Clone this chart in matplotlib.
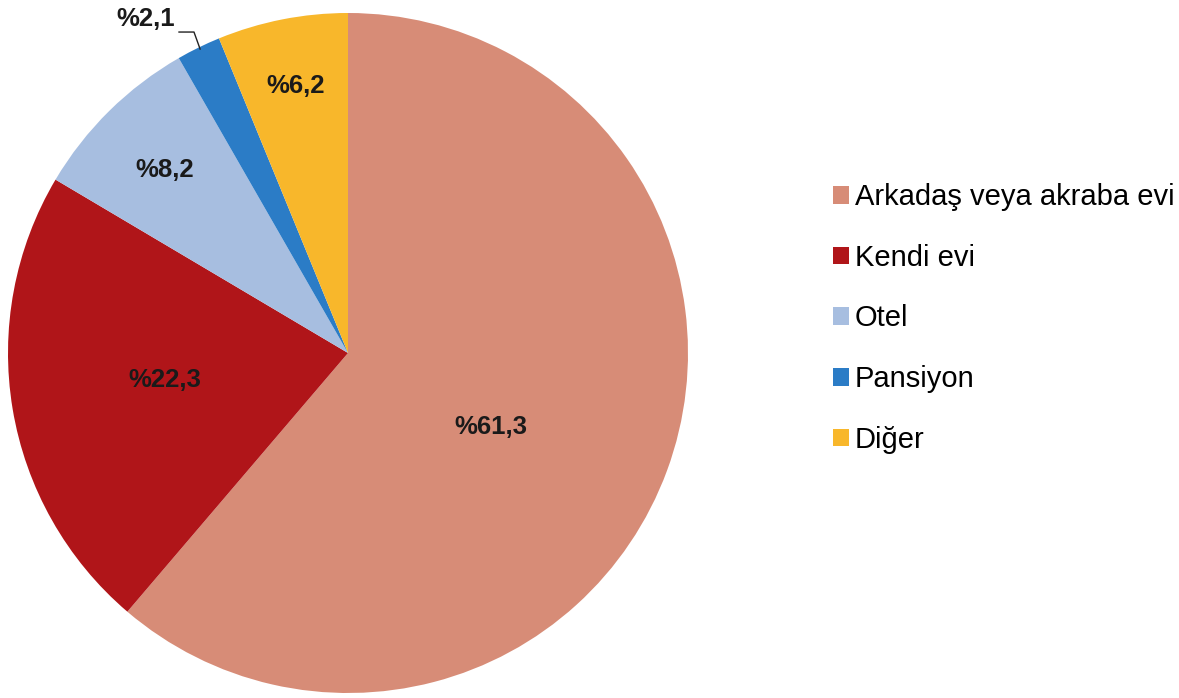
import matplotlib
matplotlib.use("Agg")
import matplotlib.pyplot as plt
from matplotlib.patches import Patch

categories = ["Arkadaş veya akraba evi", "Kendi evi", "Otel", "Pansiyon", "Diğer"]
values = [61.3, 22.3, 8.2, 2.1, 6.2]
value_labels = ["%61,3", "%22,3", "%8,2", "%2,1", "%6,2"]
colors = ["#D78C77", "#B01519", "#A7BEE0", "#2B7CC6", "#F8B72B"]

plt.rcParams['font.family'] = ['Liberation Sans', 'DejaVu Sans']

W, H = 1179, 698
fig = plt.figure(figsize=(W / 100, H / 100), dpi=100)
cx, cy, r = 348, 353, 340
ax = fig.add_axes([(cx - r) / W, (H - cy - r) / H, 2 * r / W, 2 * r / H])
wedges, _ = ax.pie(values, colors=colors, startangle=90, counterclock=False,
                   radius=1.0, wedgeprops=dict(linewidth=0))
ax.set_xlim(-1, 1)
ax.set_ylim(-1, 1)
ax.set_aspect('auto')
ax.axis('off')

label_pos = [(0.42, -0.218), (-0.538, -0.079), (-0.538, 0.538), (-0.594, 0.982), (-0.153, 0.785)]
for (x, y), t in zip(label_pos, value_labels):
    ax.text(x, y, t, ha='center', va='center', fontsize=18.5, fontweight='bold', color='#1a1a1a')

# leader line for small slice
ax.plot([-0.497, -0.453, -0.435], [0.944, 0.944, 0.894], color='#222222', lw=1.0,
        clip_on=False)

handles = [Patch(facecolor=c, edgecolor='none') for c in colors]
fig.legend(handles, categories, loc='center left',
           bbox_to_anchor=(833 / W, 1 - 318.5 / H), frameon=False,
           fontsize=21, handlelength=0.55, handleheight=0.55,
           handletextpad=0.2, labelspacing=1.12, borderpad=0, borderaxespad=0)

fig.savefig("out.png", dpi=100)
